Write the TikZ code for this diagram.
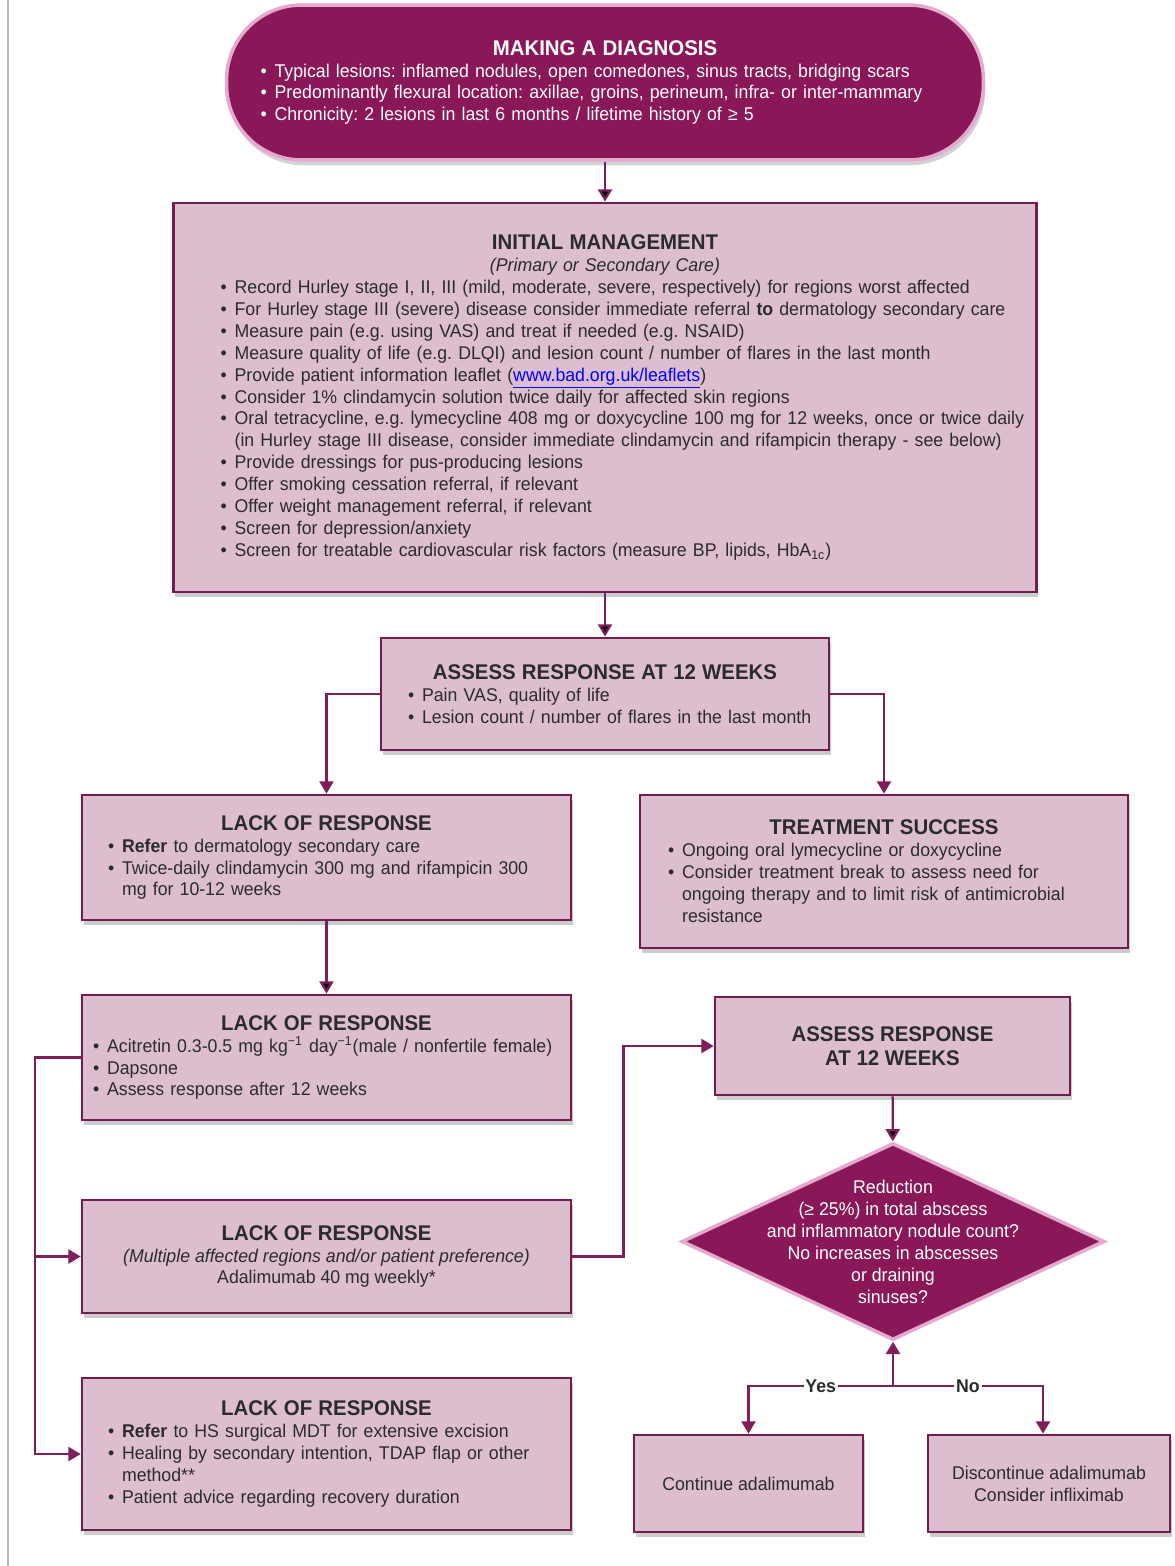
\documentclass[tikz,border=0pt]{standalone}
\usepackage{fontspec}
\setmainfont{Liberation Sans}[FakeStretch=0.96]
\usetikzlibrary{arrows.meta,%
                shapes.geometric,%
                shadows,%
                positioning}
\definecolor{plum}{HTML}{8A1858}
\definecolor{mauve}{HTML}{DDBECF}
\definecolor{boxedge}{HTML}{731C4E}
\definecolor{linkc}{HTML}{7E1F5C}
\definecolor{glow}{HTML}{E4A9CF}
\definecolor{textc}{HTML}{2B2B2B}
\hfuzz=200pt
\hbadness=10000
\frenchspacing
\newcommand{\ttl}[1]{{\centering\fontsize{12.1}{14}\selectfont\bfseries #1\par}}
\newcommand{\bul}[1]{\par\noindent\makebox[8pt][l]{\textbullet}\mbox{#1}}
\newcommand{\cont}[1]{\par\noindent\hspace*{8pt}\mbox{#1}}

\begin{document}
\begin{tikzpicture}[x=0.02cm, y=-0.02cm,
                    every node/.style={font=\fontsize{10.5}{12.5}\selectfont},
                    main node/.style={draw=boxedge,fill=mauve,line width=1.6pt,text=textc,
                                      inner sep=0pt,align=left,
                                      drop shadow={shadow xshift=1pt,shadow yshift=-3pt,opacity=0.4}},
                    dark node/.style={draw=glow,fill=plum,line width=2pt,text=white,
                                      inner sep=0pt,align=left},
                    line/.style={draw=linkc,line width=1.3pt,-{Triangle[width=8pt,length=7pt]}},
                    lbl/.style={fill=white,inner sep=1pt,text=textc,
                                font=\fontsize{10.5}{12.5}\selectfont\bfseries}]

  \useasboundingbox (0,0) rectangle (1175,1566);
  \draw[gray!55, line width=1.4pt] (8,0) -- (8,1566);

  \node[dark node, rounded corners=1.5cm, minimum width=15.14cm, minimum height=3.1cm,
        text width=13.78cm,
        drop shadow={shadow xshift=1pt,shadow yshift=-3pt,opacity=0.35}] (1) at (605,82.5) {%
    \ttl{MAKING A DIAGNOSIS}
    \bul{Typical lesions: inflamed nodules, open comedones, sinus tracts, bridging scars}
    \bul{Predominantly flexural location: axillae, groins, perineum, infra- or inter-mammary}
    \bul{Chronicity: 2 lesions in last 6 months / lifetime history of ≥ 5}};

  \node[main node, minimum width=17.26cm, minimum height=7.78cm, text width=15.38cm] (2) at (605,397.5) {%
    \ttl{INITIAL MANAGEMENT}
    {\centering\itshape (Primary or Secondary Care)\par}
    \bul{Record Hurley stage I, II, III (mild, moderate, severe, respectively) for regions worst affected}
    \bul{For Hurley stage III (severe) disease consider immediate referral \textbf{to} dermatology secondary care}
    \bul{Measure pain (e.g. using VAS) and treat if needed (e.g. NSAID)}
    \bul{Measure quality of life (e.g. DLQI) and lesion count / number of flares in the last month}
    \bul{Provide patient information leaflet (\textcolor{blue}{\underline{www.bad.org.uk/leaflets}})}
    \bul{Consider 1\% clindamycin solution twice daily for affected skin regions}
    \bul{Oral tetracycline, e.g. lymecycline 408 mg or doxycycline 100 mg for 12 weeks, once or twice daily}
    \cont{(in Hurley stage III disease, consider immediate clindamycin and rifampicin therapy - see below)}
    \bul{Provide dressings for pus-producing lesions}
    \bul{Offer smoking cessation referral, if relevant}
    \bul{Offer weight management referral, if relevant}
    \bul{Screen for depression/anxiety}
    \bul{Screen for treatable cardiovascular risk factors (measure BP, lipids, HbA\textsubscript{1c})}};

  \node[main node, minimum width=8.96cm, minimum height=2.24cm, text width=7.88cm] (3) at (605,694) {%
    \ttl{ASSESS RESPONSE AT 12 WEEKS}
    \bul{Pain VAS, quality of life}
    \bul{Lesion count / number of flares in the last month}};

  \node[main node, minimum width=9.78cm, minimum height=2.5cm, text width=8.74cm] (4) at (326.5,857.5) {%
    \ttl{LACK OF RESPONSE}
    \bul{\textbf{Refer} to dermatology secondary care}
    \bul{Twice-daily clindamycin 300 mg and rifampicin 300}
    \cont{mg for 10-12 weeks}};

  \node[main node, minimum width=9.76cm, minimum height=3.06cm, text width=8.64cm] (5) at (884,871.5) {%
    \ttl{TREATMENT SUCCESS}
    \bul{Ongoing oral lymecycline or doxycycline}
    \bul{Consider treatment break to assess need for}
    \cont{ongoing therapy and to limit risk of antimicrobial}
    \cont{resistance}};

  \node[main node, minimum width=9.78cm, minimum height=2.5cm, text width=9.34cm] (6) at (326.5,1057.5) {%
    \ttl{LACK OF RESPONSE}
    \bul{Acitretin 0.3-0.5 mg kg\textsuperscript{−1} day\textsuperscript{−1}(male / nonfertile female)}
    \bul{Dapsone}
    \bul{Assess response after 12 weeks}};

  \node[main node, minimum width=9.78cm, minimum height=2.26cm, align=center] (7) at (326.5,1256.5) {%
    {\fontsize{12.1}{14}\selectfont\bfseries LACK OF RESPONSE}\\
    \textit{(Multiple affected regions and/or patient preference)}\\
    Adalimumab 40 mg weekly*};

  \node[main node, minimum width=9.78cm, minimum height=3.04cm, text width=8.74cm] (8) at (326.5,1454) {%
    \ttl{LACK OF RESPONSE}
    \bul{\textbf{Refer} to HS surgical MDT for extensive excision}
    \bul{Healing by secondary intention, TDAP flap or other}
    \cont{method**}
    \bul{Patient advice regarding recovery duration}};

  \node[main node, minimum width=7.1cm, minimum height=1.96cm, align=center,
        font=\fontsize{12.1}{13.6}\selectfont\bfseries] (9) at (892.5,1046) {%
    ASSESS RESPONSE\\AT 12 WEEKS};

  \node[dark node, diamond, minimum width=8.46cm, minimum height=3.94cm] (10) at (893,1241.5) {};
  \node[text=white, align=center] (11) at (10) {%
    Reduction\\(≥ 25\%) in total abscess\\and inflammatory nodule count?\\
    No increases in abscesses\\or draining\\sinuses?};

  \node[main node, minimum width=4.58cm, minimum height=1.94cm, align=center] (12) at (748.5,1483.5) {%
    Continue adalimumab};
  \node[main node, minimum width=4.84cm, minimum height=1.94cm, align=center] (13) at (1049,1483.5) {%
    Discontinue adalimumab\\Consider infliximab};

  \coordinate (j1) at (35,1057.5);
  \coordinate (j2) at (893,1386);

  \path[line]
    (1) edge (2)
    (2) edge (3)
    (4) edge (6)
    (9) edge (10);

  \draw[line] (3.west) -| (4.north);
  \draw[line] (3.east) -| (5.north);
  \draw[line] (6.west) -- (j1) |- (8.west);
  \draw[line] (j1) |- (7.west);
  \draw[line] (7.east) -- ++(51,0) |- (9.west);
  \draw[line] (j2) -- (10.south);
  \draw[line] (j2) -| node[lbl, pos=0.25] {Yes} (12.north);
  \draw[line] (j2) -| node[lbl, pos=0.25] {No} ([xshift=-0.12cm]13.north);
\end{tikzpicture}
\end{document}
